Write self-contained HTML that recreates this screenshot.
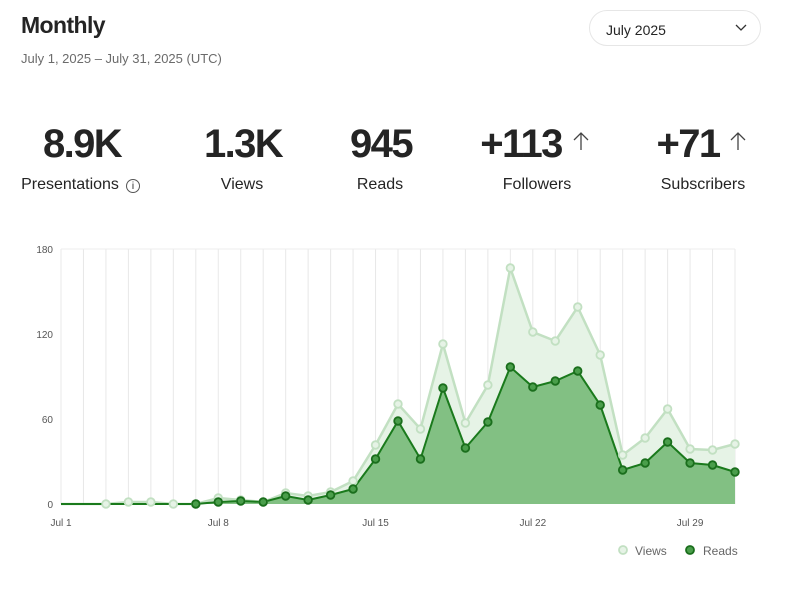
<!DOCTYPE html>
<html><head><meta charset="utf-8"><style>
body{margin:0;width:806px;height:611px;background:#fff;font-family:"Liberation Sans",sans-serif;color:#242424;position:relative;overflow:hidden}
.a{position:absolute;white-space:nowrap}
.num{font-size:40px;font-weight:bold;letter-spacing:-1.6px;top:122px;transform:translateX(-50%)}
.lbl{font-size:16px;top:176px;transform:translateX(-50%)}
.arr{font-size:24px;top:128px;color:#555;font-family:"DejaVu Sans",sans-serif;font-weight:normal}
</style></head><body>
<div class="a" style="left:21px;top:12px;font-size:23px;font-weight:bold;letter-spacing:-0.6px">Monthly</div>
<div class="a" style="left:21px;top:51px;font-size:13px;color:#6b6b6b">July 1, 2025 – July 31, 2025 (UTC)</div>
<div class="a" style="left:589px;top:10px;width:172px;height:36px;border:1px solid #e6e6e6;border-radius:19px;box-sizing:border-box"></div>
<div class="a" style="left:606px;top:22px;font-size:14px">July 2025</div>
<svg class="a" style="left:735px;top:24px" width="12" height="8"><path d="M1 1 L6 6 L11 1" fill="none" stroke="#333" stroke-width="1.3"/></svg>

<div class="a num" style="left:82px">8.9K</div>
<div class="a num" style="left:243px">1.3K</div>
<div class="a num" style="left:381px">945</div>
<div class="a num" style="left:521px">+113</div>
<div class="a num" style="left:688px">+71</div>
<svg class="a" style="left:572px;top:131px" width="18" height="20"><path d="M9 19 V2 M2 9 L9 2 L16 9" fill="none" stroke="#444" stroke-width="1.3"/></svg>
<svg class="a" style="left:729px;top:131px" width="18" height="20"><path d="M9 19 V2 M2 9 L9 2 L16 9" fill="none" stroke="#444" stroke-width="1.3"/></svg>
<div class="a lbl" style="left:70px">Presentations</div>
<div class="a" style="left:126px;top:179px;width:12px;height:12px;border:1px solid #555;border-radius:50%;font-size:10px;text-align:center;line-height:13px">i</div>
<div class="a lbl" style="left:242px">Views</div>
<div class="a lbl" style="left:380px">Reads</div>
<div class="a lbl" style="left:537px">Followers</div>
<div class="a lbl" style="left:703px">Subscribers</div>

<svg class="a" style="left:0;top:0" width="806" height="611" id="c"></svg>
<script>
var X=function(i){return 61+i*22.467};
var V=[504,504,504,502,502,504,504,498,500,502,493,496,492,481,445,404,429,344,423,385,268,332,341,307,355,455,438,409,449,450,444];
var R=[504,504,504,504,504,504,504,502,501,502,496,500,495,489,459,421,459,388,448,422,367,387,381,371,405,470,463,442,463,465,472];
var s='';
for(var i=0;i<31;i++){s+='<line x1="'+X(i)+'" y1="249" x2="'+X(i)+'" y2="504" stroke="#e8e8e8" stroke-width="1"/>';}
s+='<line x1="61" y1="249" x2="735" y2="249" stroke="#ececec"/>';
function pts(a){return a.map(function(y,i){return X(i).toFixed(1)+','+y}).join(' ');}
s+='<polygon points="61,504 '+pts(V)+' 735,504" fill="#e6f3e6"/>';
s+='<polygon points="61,504 '+pts(R)+' 735,504" fill="#82c083"/>';
s+='<polyline points="'+pts(V)+'" fill="none" stroke="#c2e0c2" stroke-width="2.5"/>';
s+='<polyline points="'+pts(R)+'" fill="none" stroke="#1a7a1c" stroke-width="2"/>';
for(var i=2;i<31;i++)s+='<circle cx="'+X(i)+'" cy="'+V[i]+'" r="3.8" fill="#e6f3e6" stroke="#c2e0c2" stroke-width="1.8"/>';
for(var i=6;i<31;i++)s+='<circle cx="'+X(i)+'" cy="'+R[i]+'" r="3.8" fill="#4a9e4b" stroke="#1a6e1c" stroke-width="1.8"/>';
var yl=[[180,249],[120,334],[60,419],[0,504]];
yl.forEach(function(t){s+='<text x="53" y="'+(t[1]+4)+'" font-size="10" fill="#555" text-anchor="end" font-family="Liberation Sans">'+t[0]+'</text>';});
[['Jul 1',0],['Jul 8',7],['Jul 15',14],['Jul 22',21],['Jul 29',28]].forEach(function(t){s+='<text x="'+X(t[1])+'" y="526" font-size="10" fill="#555" text-anchor="middle" font-family="Liberation Sans">'+t[0]+'</text>';});
s+='<circle cx="623" cy="550" r="4" fill="#e6f3e6" stroke="#c2e0c2" stroke-width="1.8"/><text x="635" y="555" font-size="12" fill="#666" font-family="Liberation Sans">Views</text>';
s+='<circle cx="690" cy="550" r="4" fill="#4a9e4b" stroke="#1a6e1c" stroke-width="1.8"/><text x="703" y="555" font-size="12" fill="#666" font-family="Liberation Sans">Reads</text>';
document.getElementById('c').innerHTML=s;
</script>
</body></html>
